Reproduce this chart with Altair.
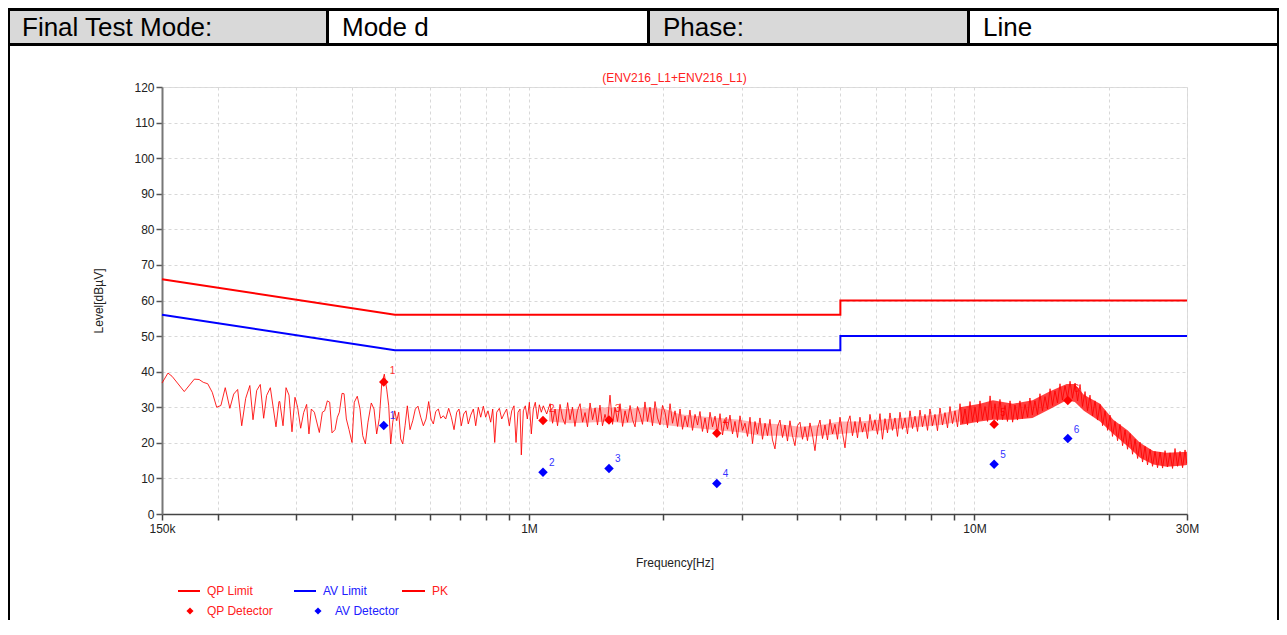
import altair as alt
import pandas as pd

# ---------------- data ----------------
x_tick_values = [0.15, 0.2, 0.3, 0.4, 0.5, 0.6, 0.7, 0.8, 0.9, 1, 2, 3, 4, 5, 6, 7, 8, 9, 10, 20, 30]
y_tick_values = [0, 10, 20, 30, 40, 50, 60, 70, 80, 90, 100, 110, 120]

qp_limit_f = [0.15, 0.5, 5, 5, 30]
qp_limit_l = [66, 56, 56, 60, 60]
av_limit_f = [0.15, 0.5, 5, 5, 30]
av_limit_l = [56, 46, 46, 50, 50]

marker_no = ["1", "2", "3", "4", "5", "6"]
marker_f = [0.472, 1.075, 1.512, 2.64, 11.07, 16.2]
qp_det = [37.1, 26.3, 26.4, 22.7, 25.2, 31.9]
av_det = [24.9, 11.7, 12.8, 8.6, 14.0, 21.2]

# PK trace, 150 kHz .. 1.1 MHz (MHz / dBuV)
pk_f_low = [0.150, 0.1547, 0.158, 0.1683, 0.1773, 0.1817, 0.1857, 0.190, 0.1945, 0.199,
            0.2034, 0.208, 0.213, 0.2173, 0.2218, 0.2265, 0.2312, 0.2362, 0.2401, 0.2447,
            0.2493, 0.2537, 0.2576, 0.2626, 0.2704, 0.2746, 0.2757, 0.2804, 0.2848, 0.2892,
            0.2937, 0.2983, 0.3024, 0.3072, 0.312, 0.3168, 0.3206, 0.3246, 0.3297, 0.3383,
            0.3436, 0.3478, 0.3526, 0.3569, 0.3612, 0.3669, 0.3713, 0.3752, 0.3804, 0.3844,
            0.389, 0.3944, 0.4005, 0.4053, 0.4116, 0.4175, 0.4234, 0.4291, 0.435, 0.4425,
            0.4488, 0.455, 0.4613, 0.467, 0.4733, 0.4792, 0.4842, 0.4893, 0.4944, 0.4995,
            0.5047, 0.5099, 0.5152, 0.5206, 0.5269, 0.5331, 0.5406, 0.5482, 0.5556, 0.5633,
            0.5714, 0.5792, 0.5872, 0.5954, 0.6026, 0.6099, 0.6174, 0.6258, 0.6336, 0.6422,
            0.6501, 0.6602, 0.6693, 0.6787, 0.6881, 0.6963, 0.7047, 0.7135, 0.7221, 0.7306,
            0.7399, 0.750, 0.7592, 0.7695, 0.7791, 0.7897, 0.7994, 0.8089, 0.8204, 0.829,
            0.8376, 0.8463, 0.8579, 0.8684, 0.8788, 0.891, 0.9033, 0.9145, 0.9254, 0.9351,
            0.9446, 0.9546, 0.961, 0.9711, 0.9811, 0.9914, 1.0018, 1.0119, 1.0226, 1.0331,
            1.044, 1.0549, 1.0656, 1.0768, 1.0957]
pk_l_low = [36.8, 39.6, 38.7, 34.4, 37.9, 37.8, 37.0, 36.6, 34.2, 30.0,
            30.5, 35.5, 29.7, 33.7, 35.0, 24.8, 32.5, 36.1, 26.5, 34.7,
            36.4, 26.9, 33.3, 35.5, 24.5, 31.6, 31.6, 24.8, 35.5, 33.4,
            23.1, 32.8, 30.0, 24.1, 28.5, 30.8, 22.5, 29.5, 28.6, 22.9,
            28.6, 29.0, 31.8, 31.4, 22.8, 23.7, 27.2, 28.6, 33.9, 33.8,
            26.7, 23.7, 20.1, 31.4, 33.1, 29.5, 22.0, 19.7, 25.8, 31.2,
            29.5, 22.5, 26.9, 36.5, 39.3, 35.1, 30.4, 19.7, 25.8, 29.0,
            26.2, 28.6, 21.1, 19.7, 24.8, 30.4, 23.7, 26.2, 29.5, 30.3,
            27.2, 24.8, 26.7, 31.6, 26.7, 25.3, 28.8, 29.5, 26.9, 27.6,
            26.7, 29.7, 27.2, 23.7, 28.6, 29.5, 24.8, 28.1, 29.0, 25.3,
            27.8, 29.5, 24.8, 30.0, 27.2, 30.3, 27.2, 29.0, 25.8, 29.5,
            20.1, 28.6, 29.7, 26.7, 28.1, 29.5, 24.8, 29.0, 30.4, 20.1,
            28.6, 29.5, 16.6, 29.0, 30.4, 26.7, 31.4, 22.5, 29.5, 31.4,
            26.7, 30.7, 28.6, 30.4, 28.1]

# PK trace, 1.1 MHz .. 30 MHz (dense part) - two interleaved frequency sets
pk_f_high_a = [1.115, 1.144, 1.174, 1.205, 1.236, 1.268, 1.302, 1.336, 1.371, 1.407,
               1.443, 1.481, 1.520, 1.560, 1.601, 1.643, 1.686, 1.730, 1.775, 1.821,
               1.869, 1.918, 1.968, 2.020, 2.073, 2.127, 2.183, 2.240, 2.298, 2.359,
               2.420, 2.484, 2.549, 2.616, 2.684, 2.754, 2.826, 2.900, 2.976, 3.054,
               3.134, 3.216, 3.300, 3.387, 3.475, 3.566, 3.659, 3.755, 3.853, 3.954,
               4.058, 4.164, 4.273, 4.385, 4.500, 4.618, 4.739, 4.863, 4.990, 5.121,
               5.255, 5.393, 5.533, 5.678, 5.827, 5.980, 6.136, 6.297, 6.462, 6.631,
               6.805, 6.983, 7.166, 7.354, 7.546, 7.744, 7.946, 8.154, 8.368, 8.587,
               8.812, 9.043, 9.280, 9.523, 9.772, 10.03, 10.29, 10.56, 10.84, 11.12,
               11.41, 11.71, 12.02, 12.33, 12.65, 12.99, 13.32, 13.67, 14.03, 14.40,
               14.78, 15.16, 15.56, 15.97, 16.39, 16.82, 17.26, 17.71, 18.17, 18.65,
               19.14, 19.64, 20.15, 20.68, 21.22, 21.78, 22.35, 22.94, 23.53, 24.15,
               24.78, 25.43, 26.10, 26.78, 27.48, 28.20, 28.94, 29.70]
pk_l_high_a = [31.0, 29.5, 30.8, 25.2, 26.5, 24.6, 31.0, 28.5, 31.2, 29.8,
               30.6, 28.0, 33.4, 30.0, 31.0, 29.0, 30.5, 24.5, 28.0, 31.5,
               30.0, 31.6, 25.0, 28.5, 31.0, 29.0, 29.5, 27.5, 29.2, 28.0,
               28.8, 27.0, 28.6, 27.5, 28.2, 26.5, 27.8, 26.0, 27.6, 25.5,
               27.2, 26.0, 27.0, 25.5, 26.6, 18.3, 26.4, 25.0, 26.2, 19.2,
               25.8, 24.5, 25.6, 17.8, 26.4, 25.0, 26.6, 25.2, 27.2, 18.6,
               27.6, 26.0, 27.2, 25.5, 28.0, 26.5, 28.2, 26.8, 28.4, 27.0,
               28.6, 27.0, 29.0, 27.5, 29.2, 28.0, 29.5, 28.0, 29.8, 28.5,
               30.2, 29.0, 31.0, 29.5, 31.6, 30.0, 31.8, 30.2, 33.2, 31.0,
               32.2, 30.5, 31.8, 30.6, 31.8, 30.8, 32.6, 31.8, 33.8, 33.0,
               35.2, 34.6, 36.6, 36.0, 37.3, 36.8, 36.4, 34.4, 33.4, 31.8,
               30.8, 29.0, 27.8, 26.0, 25.2, 23.6, 22.6, 21.0, 20.2, 19.0,
               18.2, 17.6, 17.4, 17.8, 17.2, 18.4, 17.6, 18.0]
pk_f_high_b = [1.1295, 1.159, 1.189, 1.221, 1.252, 1.2845, 1.319, 1.353, 1.389, 1.425,
               1.462, 1.500, 1.540, 1.580, 1.622, 1.664, 1.708, 1.752, 1.798, 1.845,
               1.893, 1.943, 1.994, 2.046, 2.100, 2.155, 2.211, 2.269, 2.328, 2.390,
               2.451, 2.516, 2.582, 2.650, 2.719, 2.790, 2.863, 2.938, 3.015, 3.094,
               3.175, 3.258, 3.343, 3.431, 3.520, 3.612, 3.707, 3.804, 3.903, 4.005,
               4.111, 4.218, 4.329, 4.442, 4.559, 4.678, 4.801, 4.926, 5.055, 5.188,
               5.323, 5.463, 5.605, 5.752, 5.903, 6.058, 6.216, 6.379, 6.546, 6.717,
               6.893, 7.074, 7.259, 7.450, 7.644, 7.845, 8.049, 8.260, 8.477, 8.699,
               8.927, 9.161, 9.401, 9.647, 9.899, 10.16, 10.42, 10.70, 10.98, 11.26,
               11.56, 11.86, 12.18, 12.49, 12.81, 13.16, 13.49, 13.85, 14.21, 14.59,
               14.97, 15.36, 15.76, 16.18, 16.60, 17.04, 17.48, 17.94, 18.41, 18.89,
               19.39, 19.90, 20.41, 20.95, 21.50, 22.06, 22.64, 23.24, 23.84, 24.46,
               25.10, 25.76, 26.44, 27.13, 27.84, 28.57, 29.32, 29.95]
pk_l_high_b = [25.5, 24.8, 27.0, 31.3, 30.0, 29.0, 25.8, 24.5, 26.5, 25.0,
               24.8, 25.6, 25.2, 26.0, 24.6, 25.8, 26.5, 30.2, 25.2, 26.0,
               24.8, 27.0, 30.5, 24.2, 25.5, 24.6, 23.8, 24.5, 23.5, 25.0,
               23.2, 22.8, 24.5, 23.0, 22.2, 23.8, 22.5, 21.5, 23.5, 21.8,
               19.8, 22.5, 21.0, 22.0, 20.8, 24.5, 21.5, 20.5, 22.0, 24.8,
               21.0, 20.6, 22.2, 24.0, 21.2, 20.8, 22.5, 21.0, 22.8, 25.5,
               22.0, 21.4, 23.0, 21.2, 23.6, 22.4, 21.0, 22.8, 23.5, 21.8,
               23.8, 22.5, 24.0, 23.2, 24.5, 23.5, 24.8, 23.4, 25.0, 24.2,
               25.4, 24.5, 25.5, 25.0, 26.0, 25.6, 26.5, 26.0, 26.8, 26.2,
               26.5, 26.0, 25.8, 26.4, 26.8, 27.2, 27.8, 28.0, 29.0, 29.5,
               30.5, 31.2, 32.0, 32.6, 32.5, 31.8, 30.2, 29.0, 27.6, 26.4,
               24.8, 23.5, 21.8, 20.6, 19.2, 18.2, 16.8, 15.6, 14.6, 13.8,
               13.4, 13.0, 12.9, 13.2, 12.8, 13.4, 13.0, 14.2]

# core of the dense PK band
band_mid_f = [1.109, 1.236, 1.371, 1.505, 1.643, 1.821, 2.020, 2.183, 2.420, 2.684, 2.976,
              3.300, 3.659, 4.058, 4.500, 4.990, 5.533, 6.136, 6.805, 7.546, 8.368, 9.280]
band_mid_lo = [26.0, 25.5, 25.7, 26.0, 25.5, 26.0, 25.0, 24.5, 24.0, 23.5, 23.0,
               22.0, 22.0, 21.5, 22.0, 22.5, 23.0, 23.5, 24.0, 24.5, 25.0, 26.0]
band_mid_hi = [29.5, 29.5, 29.7, 30.0, 29.5, 30.0, 29.5, 28.0, 27.5, 27.0, 26.5,
               25.5, 25.2, 24.5, 25.0, 26.0, 26.0, 26.5, 27.0, 27.5, 28.0, 29.5]
band_hi_f = [9.280, 10.29, 11.0, 12.2, 13.5, 14.78, 16.1, 16.8, 17.6, 19.14, 20.5,
             22.1, 23.53, 25.2, 27.0, 29.4, 30.0]
band_hi_lo = [25.0, 26.0, 26.5, 26.5, 27.0, 29.5, 32.0, 31.5, 29.0, 26.0, 22.5,
              19.0, 15.8, 13.9, 13.3, 13.6, 13.8]
band_hi_hi = [30.0, 31.0, 32.0, 31.0, 32.0, 34.5, 36.5, 36.5, 33.5, 31.0, 26.5,
              23.5, 20.0, 17.7, 17.2, 17.4, 17.5]

header_cells = ["Final Test Mode:", "Mode d", "Phase:", "Line"]
chart_title = "(ENV216_L1+ENV216_L1)"
legend_labels = ["QP Limit", "AV Limit", "PK", "QP Detector", "AV Detector"]

# ---------------- styling ----------------
FONT = "Liberation Sans"
RED = "#FF0000"
BLUE = "#0000FF"
W, H = 1025, 427

xs = alt.Scale(type="log", domain=[0.15, 30], nice=False)
ys = alt.Scale(domain=[0, 120], nice=False, zero=False)

x_axis = alt.Axis(
    values=x_tick_values,
    labelExpr="datum.value == 0.15 ? '150k' : datum.value == 1 ? '1M' : datum.value == 10 ? '10M' : datum.value == 30 ? '30M' : ''",
    title="Frequency[Hz]", titleX=W / 2, titleY=48, titleBaseline="middle",
    titleFont=FONT, titleFontSize=12, titleFontWeight="normal", titleColor="#222",
    labelFont=FONT, labelFontSize=12, labelColor="#222", labelPadding=3,
    labelFlush=False, labelOverlap=False,
    grid=True, gridColor="#D8D8D8", gridDash=[3, 3], gridWidth=1,
    domainColor="#444", domainWidth=1.5, tickColor="#444", tickSize=6, tickWidth=1.5,
)
y_axis = alt.Axis(
    values=y_tick_values, title="Level[dBµV]", titleX=-64, titleY=H / 2,
    titleAngle=270, titleBaseline="middle", titleAlign="center",
    titleFont=FONT, titleFontSize=12, titleFontWeight="normal", titleColor="#222",
    labelFont=FONT, labelFontSize=12, labelColor="#222", labelPadding=2,
    grid=True, gridColor="#D8D8D8", gridDash=[3, 3], gridWidth=1,
    domainColor="#777", domainWidth=2, tickColor="#555", tickSize=6, tickWidth=1.5,
)

X = alt.X("f:Q", scale=xs, axis=x_axis)
Y = alt.Y("l:Q", scale=ys, axis=y_axis)

def line_df(fs, ls):
    return pd.DataFrame({"f": fs, "l": ls, "i": list(range(len(fs)))})

layers = []

# ---- decorative frame (header table and borders), pixel positions relative to plot origin ----
one = pd.DataFrame({"k": [0]})

def rect(x1, x2, y1, y2, color):
    return alt.Chart(one).mark_rect(color=color, strokeWidth=0).encode(
        x=alt.value(x1), x2=alt.value(x2), y=alt.value(y1), y2=alt.value(y2))

layers.append(rect(-154, 1117, -79, -41, "#000000"))
cell_x = [(-152, 164), (167, 485), (488, 805), (808, 1115)]
cell_fill = ["#D9D9D9", "#FFFFFF", "#D9D9D9", "#FFFFFF"]
for (a, b), c in zip(cell_x, cell_fill):
    layers.append(rect(a, b, -76, -44, c))
layers.append(rect(-154, -152, -41, 540, "#000000"))
layers.append(rect(1115, 1117, -41, 540, "#000000"))
text_x = [-140, 180, 501, 821]
for t, tx in zip(header_cells, text_x):
    layers.append(alt.Chart(one).mark_text(text=t, font=FONT, fontSize=26, color="#000",
                                           align="left", baseline="alphabetic").encode(
        x=alt.value(tx), y=alt.value(-51)))

# ---- limits ----
layers.append(alt.Chart(line_df(qp_limit_f, qp_limit_l)).mark_line(color=RED, strokeWidth=2).encode(
    x=X, y=Y, order="i:Q"))
layers.append(alt.Chart(line_df(av_limit_f, av_limit_l)).mark_line(color=BLUE, strokeWidth=2).encode(
    x=X, y=Y, order="i:Q"))

mk = pd.DataFrame({"f": marker_f, "qp": qp_det, "av": av_det, "n": marker_no})

# QP marker numbers (under the trace)
layers.append(alt.Chart(mk).mark_text(color="#FF3030", font=FONT, fontSize=10, align="left",
                                      dx=6, dy=-11).encode(
    x=X, y=alt.Y("qp:Q", scale=ys, axis=y_axis), text="n:N"))

# ---- PK trace ----
band_mid = pd.DataFrame({"f": band_mid_f, "l": band_mid_lo, "l2": band_mid_hi})
band_hi = pd.DataFrame({"f": band_hi_f, "l": band_hi_lo, "l2": band_hi_hi})
layers.append(alt.Chart(band_mid).mark_area(color=RED, opacity=0.3).encode(x=X, y=Y, y2="l2:Q"))
layers.append(alt.Chart(band_hi).mark_area(color=RED, opacity=0.75).encode(x=X, y=Y, y2="l2:Q"))
pk = pd.DataFrame({
    "f": pk_f_low + pk_f_high_a + pk_f_high_b,
    "l": pk_l_low + pk_l_high_a + pk_l_high_b,
}).sort_values("f").reset_index(drop=True)
pk["i"] = range(len(pk))
layers.append(alt.Chart(pk).mark_line(color=RED, strokeWidth=1, opacity=0.85).encode(
    x=X, y=Y, order="i:Q"))

# ---- detector markers ----
layers.append(alt.Chart(mk).mark_point(shape="diamond", filled=True, size=90, color=RED, opacity=1).encode(
    x=X, y=alt.Y("qp:Q", scale=ys, axis=y_axis)))
layers.append(alt.Chart(mk).mark_point(shape="diamond", filled=True, size=90, color=BLUE, opacity=1).encode(
    x=X, y=alt.Y("av:Q", scale=ys, axis=y_axis)))
layers.append(alt.Chart(mk).mark_text(color="#3333FF", font=FONT, fontSize=10, align="left",
                                      dx=6, dy=-9).encode(
    x=X, y=alt.Y("av:Q", scale=ys, axis=y_axis), text="n:N"))

# ---- chart title ----
layers.append(alt.Chart(one).mark_text(text=chart_title, font=FONT, fontSize=12, color="#FF2020",
                                       align="center", baseline="middle").encode(
    x=alt.value(W / 2), y=alt.value(-9)))

# ---- legend (decorative) ----
def lrule(x1, x2, yv, color):
    return alt.Chart(one).mark_rule(color=color, strokeWidth=2).encode(
        x=alt.value(x1), x2=alt.value(x2), y=alt.value(yv))

def ltext(t, xv, yv, color):
    return alt.Chart(one).mark_text(text=t, font=FONT, fontSize=12, color=color,
                                    align="left", baseline="middle").encode(
        x=alt.value(xv), y=alt.value(yv))

def ldiamond(xv, yv, color):
    return alt.Chart(one).mark_point(shape="diamond", filled=True, size=50, color=color, opacity=1).encode(
        x=alt.value(xv), y=alt.value(yv))

LR = "#FF2020"
LB = "#2020FF"
layers += [
    lrule(16, 38, 504, RED), ltext(legend_labels[0], 45, 504, LR),
    lrule(132, 154, 504, BLUE), ltext(legend_labels[1], 161, 504, LB),
    lrule(240, 263, 504, RED), ltext(legend_labels[2], 270, 504, LR),
    ldiamond(28, 524, RED), ltext(legend_labels[3], 45, 524, LR),
    ldiamond(156, 524, BLUE), ltext(legend_labels[4], 173, 524, LB),
]

chart = alt.layer(*layers).properties(
    width=W, height=H,
    autosize=alt.AutoSizeParams(type="none"),
    padding={"left": 154, "top": 79, "right": 92, "bottom": 106},
).configure_view(stroke="transparent").configure(background="white", font=FONT)

chart.save("out.html", embed_options={"renderer": "svg", "actions": False})
